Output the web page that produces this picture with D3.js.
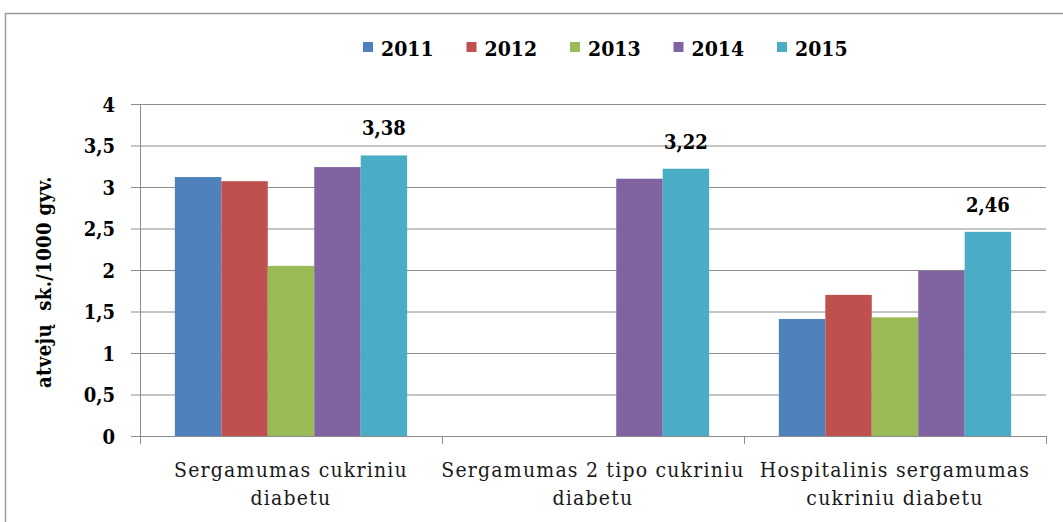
<!DOCTYPE html>
<html>
<head>
<meta charset="utf-8">
<style>
  body { margin: 0; background: #fff; }
  svg text { font-family: "DejaVu Serif Condensed", "DejaVu Serif", serif; font-stretch: condensed; }
</style>
</head>
<body>
<div id="chart"></div>
<script src="https://d3js.org/d3.v7.min.js"></script>
<script>
// chart data
const categories = ['Sergamumas cukriniu diabetu', 'Sergamumas 2 tipo cukriniu diabetu', 'Hospitalinis sergamumas cukriniu diabetu'];
const categoryLines = [
  ['Sergamumas cukriniu', 'diabetu'],
  ['Sergamumas 2 tipo cukriniu', 'diabetu'],
  ['Hospitalinis sergamumas', 'cukriniu diabetu']
];
const years = ['2011', '2012', '2013', '2014', '2015'];
const v2011 = [3.12, null, 1.41];
const v2012 = [3.07, null, 1.70];
const v2013 = [2.05, null, 1.43];
const v2014 = [3.24, 3.10, 1.99];
const v2015 = [3.38, 3.22, 2.46];
const yTicks = [0, 0.5, 1, 1.5, 2, 2.5, 3, 3.5, 4];
const colors = ['#4F81BD', '#C0504D', '#9BBB59', '#8064A2', '#4BACC6'];
const yTitle = 'atvejų  sk./1000 gyv.';

const series = [v2011, v2012, v2013, v2014, v2015];

const width = 1063, height = 522;
const svg = d3.select('#chart').append('svg')
  .attr('width', width)
  .attr('height', height);

// outer chart frame (cut off at right and bottom)
svg.append('rect')
  .attr('x', 5.5).attr('y', 13.5)
  .attr('width', 1100).attr('height', 600)
  .attr('fill', 'none')
  .attr('stroke', '#9a9a9a')
  .attr('stroke-width', 1.5);

const x0 = d3.scaleBand().domain(categories).range([140, 1046]);
const x1 = d3.scaleBand().domain(years).range([0, x0.bandwidth()]).paddingOuter(0.75);
const y = d3.scaleLinear().domain([0, 4]).range([436, 104]);

// gridlines
const yAxis = d3.axisLeft(y)
  .tickValues(yTicks)
  .tickSize(-(1046 - 131))
  .tickFormat(d => String(d).replace('.', ','));

const gy = svg.append('g')
  .attr('transform', 'translate(131,0)')
  .call(yAxis);
gy.attr('font-family', null);
gy.select('.domain').remove();
gy.selectAll('.tick line').attr('stroke', '#8c8c8c');
gy.selectAll('.tick text')
  .attr('x', -16)
  .attr('dy', '0.35em')
  .attr('font-size', 20)
  .attr('font-weight', 'bold')
  .attr('fill', '#000');

// bars
const groups = svg.append('g').selectAll('g')
  .data(categories)
  .join('g')
  .attr('transform', d => `translate(${x0(d)},0)`);

groups.selectAll('rect')
  .data((c, ci) => years.map((yr, si) => ({ yr, si, v: series[si][ci] })).filter(d => d.v != null))
  .join('rect')
  .attr('x', d => x1(d.yr))
  .attr('width', x1.bandwidth())
  .attr('y', d => y(d.v))
  .attr('height', d => y(0) - y(d.v))
  .attr('fill', d => colors[d.si]);

// value labels on 2015 series
groups.append('text')
  .datum((c, ci) => v2015[ci])
  .attr('x', x1('2015') + x1.bandwidth() / 2)
  .attr('y', d => y(d) - 20)
  .attr('text-anchor', 'middle')
  .attr('font-size', 20)
  .attr('font-weight', 'bold')
  .text(d => d.toFixed(2).replace('.', ','));

// y axis line
svg.append('line')
  .attr('x1', 140.5).attr('x2', 140.5)
  .attr('y1', 104).attr('y2', 436)
  .attr('stroke', '#8c8c8c');

// x axis
const xAxis = d3.axisBottom(x0).tickSize(0).tickFormat('');
const gx = svg.append('g')
  .attr('transform', 'translate(0,436)')
  .call(xAxis);
gx.select('.domain').attr('stroke', '#8c8c8c').attr('d', 'M140,0.5H1046');
const bounds = categories.map(c => x0(c)).concat([x0.range()[1]]);
gx.selectAll('line.sep')
  .data(bounds)
  .join('line')
  .attr('class', 'sep')
  .attr('x1', d => Math.round(d) + 0.5).attr('x2', d => Math.round(d) + 0.5)
  .attr('y1', 0).attr('y2', 8)
  .attr('stroke', '#8c8c8c');

// category labels
const catLabels = svg.append('g').selectAll('text')
  .data(categories)
  .join('text')
  .attr('x', d => x0(d) + x0.bandwidth() / 2)
  .attr('y', 477)
  .attr('text-anchor', 'middle')
  .attr('font-size', 21)
  .attr('letter-spacing', 1.2)
  .attr('fill', '#1a1a1a');
catLabels.selectAll('tspan')
  .data((d, i) => categoryLines[i])
  .join('tspan')
  .attr('x', function() { return d3.select(this.parentNode).attr('x'); })
  .attr('dy', (d, i) => i === 0 ? 0 : 28)
  .text(d => d);

// y axis title
svg.append('text')
  .attr('transform', 'translate(51,282) rotate(-90)')
  .attr('text-anchor', 'middle')
  .attr('font-size', 20)
  .attr('font-weight', 'bold')
  .attr('letter-spacing', 0.4)
  .style('white-space', 'pre')
  .text(yTitle);

// legend
const legend = svg.append('g').attr('transform', 'translate(363,0)');
const item = legend.selectAll('g')
  .data(years)
  .join('g')
  .attr('transform', (d, i) => `translate(${i * 103.5},0)`);
item.append('rect')
  .attr('x', 0).attr('y', 42)
  .attr('width', 10).attr('height', 10)
  .attr('fill', (d, i) => colors[i]);
item.append('text')
  .attr('x', 18).attr('y', 56)
  .attr('font-size', 21)
  .attr('font-weight', 'bold')
  .text(d => d);
</script>
</body>
</html>
